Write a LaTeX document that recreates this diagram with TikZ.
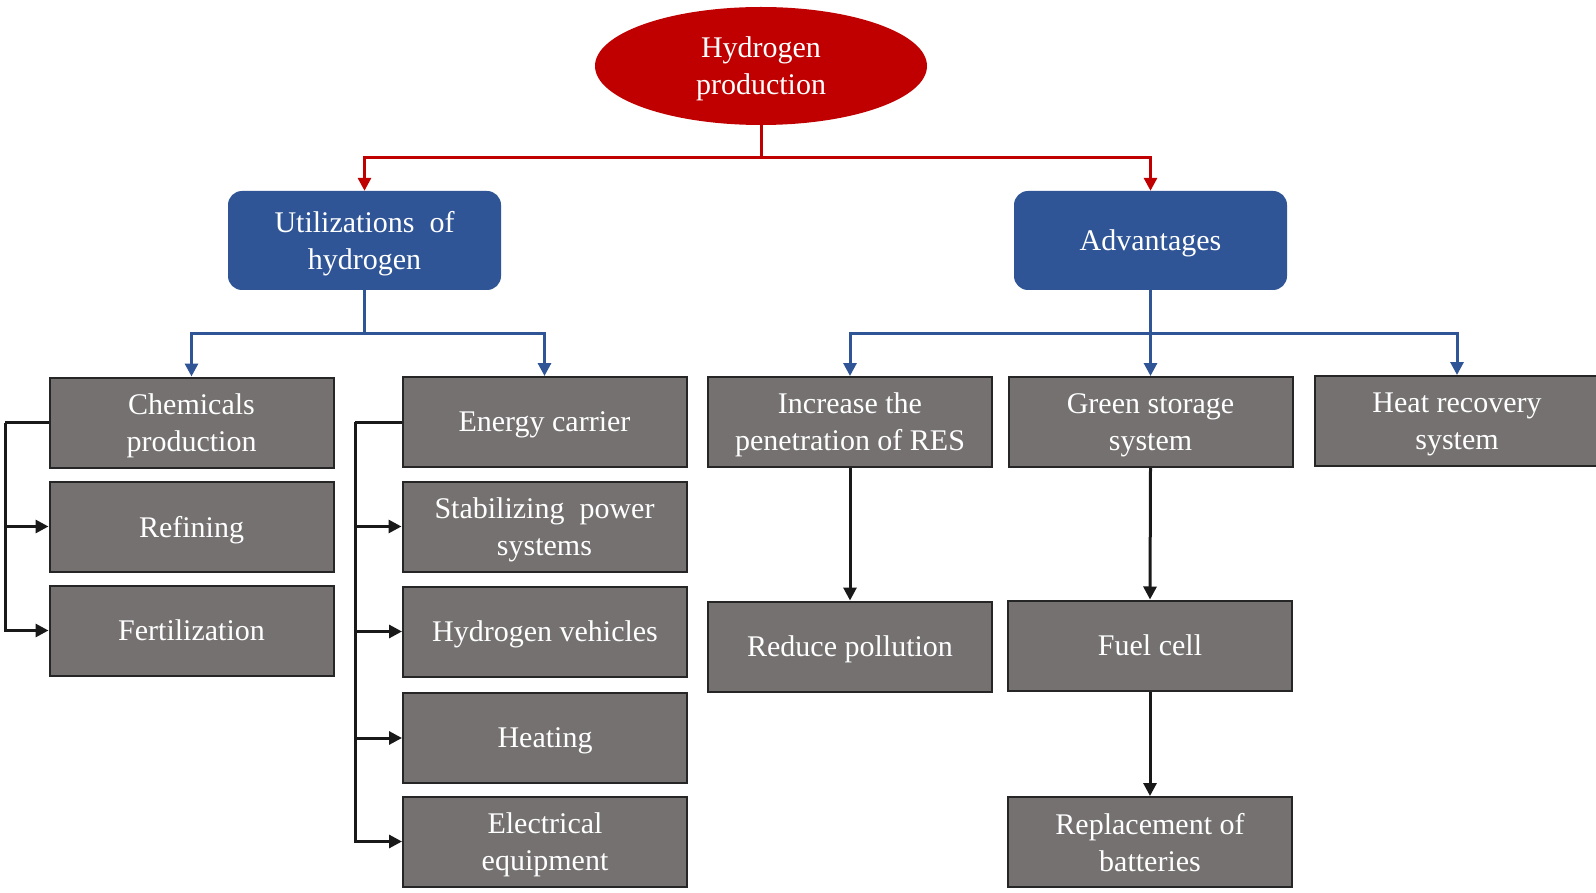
\documentclass[tikz,border=0pt]{standalone}
\usepackage{fontspec}
\setmainfont{Liberation Serif}
\usetikzlibrary{shapes.geometric,arrows.meta}
\definecolor{hred}{HTML}{C00000}
\definecolor{hblue}{HTML}{2F5597}
\definecolor{hgray}{HTML}{757171}
\definecolor{hedge}{HTML}{262626}
\begin{document}
\begin{tikzpicture}[x=1pt,y=-1pt,
  txt/.style={text=white,font=\fontsize{30}{37}\selectfont,align=center,text depth=0pt},
  topnode/.style={txt,ellipse,fill=hred,minimum width=332pt,minimum height=118pt,inner sep=0pt},
  bluebox/.style={txt,rectangle,rounded corners=14pt,fill=hblue,minimum width=273pt,minimum height=99pt,inner sep=0pt},
  graybox/.style={txt,rectangle,fill=hgray,draw=hedge,line width=2pt,minimum width=284pt,minimum height=90pt,inner sep=0pt},
  tip/.style={-{Triangle[length=13pt,width=13pt]}},
  redline/.style={tip,draw=hred,line width=3pt},
  blueline/.style={tip,draw=hblue,line width=3pt},
  blackline/.style={tip,draw=black!90,line width=3pt},
  plainblack/.style={draw=black!90,line width=3pt}
]
\useasboundingbox (0,0) rectangle (1596,893);
\fill[white] (0,0) rectangle (1596,893);

\node[topnode] (top) at (761,66) {Hydrogen\\production};
\node[bluebox] (util) at (364.5,240.5) {Utilizations\ \ of\\hydrogen};
\node[bluebox] (adv) at (1150.5,240.5) {Advantages};

\node[graybox] (chem) at (191.5,422.5) {Chemicals\\production};
\node[graybox] (ref) at (191.5,526.5) {Refining};
\node[graybox] (fert) at (191.5,630.5) {Fertilization};

\node[graybox] (energy) at (544.5,422) {Energy carrier};
\node[graybox] (stab) at (544.5,526.5) {Stabilizing\ \ power\\systems};
\node[graybox] (veh) at (545,631.5) {Hydrogen vehicles};
\node[graybox] (heat) at (545,738) {Heating};
\node[graybox] (elec) at (545,841.5) {Electrical\\equipment};

\node[graybox] (incr) at (850,422) {Increase the\\penetration of RES};
\node[graybox] (green) at (1150.5,422) {Green storage\\system};
\node[graybox] (heatrec) at (1457,421) {Heat recovery\\system};

\node[graybox] (reduce) at (850,646.5) {Reduce pollution};
\node[graybox] (fuel) at (1150,645.5) {Fuel cell};
\node[graybox] (repl) at (1150,842) {Replacement of\\batteries};

% red connectors
\coordinate (rj) at (761,158);
\draw[hred,line width=3pt] (top.south) -- (rj);
\draw[redline] (rj) -| (util.north);
\draw[redline] (rj) -| (adv.north);

% blue connectors
\coordinate (uj) at (364.5,334);
\draw[hblue,line width=3pt] (util.south) -- (uj);
\draw[blueline] (uj) -| (chem.north);
\draw[blueline] (uj) -| (energy.north);
\coordinate (aj) at (1150.5,334);
\draw[hblue,line width=3pt] (adv.south) -- (aj);
\draw[blueline] (aj) -| (incr.north);
\draw[blueline] (aj) -| (green.north);
\draw[blueline] (aj) -| (heatrec.north);

% black vertical connectors
\draw[blackline] (incr.south) -- (reduce.north);
\draw[blackline] (green.south) -- (fuel.north);
\draw[blackline] (fuel.south) -- (repl.north);

% left brackets
\coordinate (lb) at (5,422.5);
\draw[plainblack] (chem.west) -- (lb);
\draw[blackline] (lb) |- (ref.west);
\draw[blackline] (lb) |- (fert.west);
\coordinate (lb2) at (355,422);
\draw[plainblack] (energy.west) -- (lb2);
\draw[blackline] (lb2) |- (stab.west);
\draw[blackline] (lb2) |- (veh.west);
\draw[blackline] (lb2) |- (heat.west);
\draw[blackline] (lb2) |- (elec.west);
\end{tikzpicture}
\end{document}
